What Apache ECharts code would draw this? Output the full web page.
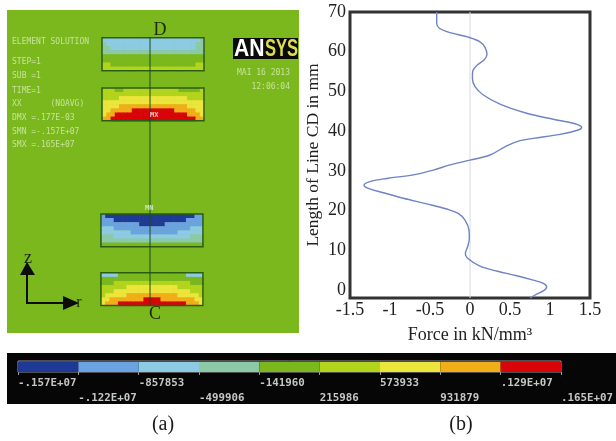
<!DOCTYPE html>
<html><head><meta charset="utf-8">
<style>html,body{margin:0;padding:0;background:#fff}#c{width:616px;height:441px;filter:blur(0.35px)}</style>
<script src="https://cdn.jsdelivr.net/npm/echarts@6/dist/echarts.min.js"></script>
</head><body><div id="c"></div>
<script>
// Force profile along line CD: [force in kN/mm3, length in mm]
const forceValues = [-0.416,-0.416,-0.383,-0.25,-0.01,0.125,0.1875,0.2125,0.175,0.083,0.033,0.03,0.0625,0.167,0.375,0.708,1.04,1.29,1.396,1.354,1.125,0.79,0.625,0.458,0.25,0,-0.25,-0.458,-0.708,-1.04,-1.25,-1.325,-1.27,-1.083,-0.833,-0.54,-0.29,-0.146,-0.0625,-0.0125,-0.008,-0.03,-0.058,-0.03,0.125,0.333,0.583,0.79,0.917,0.958,0.917,0.833,0.75];
const lengthValues = [70,67.1,65.9,64.8,63.6,62.5,61.1,59.3,57.9,56.5,55,53.3,51.2,49.1,46.8,44.5,43,42,41,40.3,39.2,38.2,37.6,36.3,34,32.7,31.5,30.2,29,28.1,27.3,26.4,25.6,24.5,23.1,21.7,20.4,19.3,17.6,15.1,13,10.9,9.2,8,6,4.8,3.6,2.5,1.7,0.8,-0.2,-1,-2];
const yTicks = [0,10,20,30,40,50,60,70];

// Contour bands (level index per cell) of the four sections
const sectionTopA = ["222222222222222222222223","322222222222222222222233","332222222222222222222233","333333333333333333333333","444444444444444444444444","444444444444444444444444","554444444444444444444455","555555555555555555555555"];
const sectionTopB = ["555445555555555555444445","555555555555555555555555","555566666666666666665555","666666666666666666666666","666677777777777777776666","667777788888888887777766","677888888888888888887776","778888888888888888888877"];
const sectionLowA = ["100000000000000000000011","111000000000000000001111","111111111000000111111111","222111111111111111111222","222222211111111111222222","333222222222222222222333","333333333333333333333333","444444444444444444444444"];
const sectionLowB = ["222244444444444444442222","444444444444444444444444","444555555555555555555444","555555666666666666555555","555666666666666666666555","566666777777777777666665","667777777788887777777766","677788888888888888887776"];
const sectionRows = [sectionTopA, sectionTopB, sectionLowA, sectionLowB];
const sectionOrigin = [[22.35,6.8],[22.35,19],[22.1,49.75],[22.1,64.1]];

// Colour scale
const levelColors = ["#1f3a96","#6ba2e2","#8ccbe3","#8cc9a6","#7ab81e","#b2d41c","#ece63c","#f2ae18","#d80408"];
const levelLabels = ["-.157E+07","-.122E+07","-857853","-499906","-141960","215986","573933","931879",".129E+07",".165E+07"];

const infoLines = [["ELEMENT SOLUTION",42],["STEP=1",62],["SUB =1",76],["TIME=1",91],["XX      (NOAVG)",104],["DMX =.177E-03",118],["SMN =-.157E+07",132],["SMX =.165E+07",145]];

const cells = [];
sectionRows.forEach((rows,s)=>rows.forEach((row,r)=>row.split("").forEach((ch,c)=>{
  cells.push([sectionOrigin[s][0]+c, sectionOrigin[s][1]+r, +ch]);
})));
const outlines = sectionOrigin.map(o=>[o[0],o[1]]);

const serif = '"Liberation Serif","Times New Roman",serif';
const mono = '"DejaVu Sans Mono","Liberation Mono",monospace';
const sans = '"Liberation Sans",sans-serif';
const chart = echarts.init(document.getElementById('c'),null,{renderer:'canvas'});

const txt = (x,y,text,o)=>({type:'text',x,y,z:50,silent:true,style:Object.assign({text,fill:'#c9e29a',font:'8px '+mono,verticalAlign:'middle'},o||{})});

chart.setOption({
  animation:false,
  backgroundColor:'#fff',
  grid:[
    {left:350,width:240,top:12,height:286,show:true,borderColor:'#333',borderWidth:3,backgroundColor:'#fff'},
    {left:7,width:292,top:10,height:323,show:true,borderWidth:0,backgroundColor:'#7ab81e'},
    {left:18,width:545,top:361,height:11,show:true,borderColor:'#9a9a9a',borderWidth:1,backgroundColor:'#000'}
  ],
  xAxis:[
    {gridIndex:0,type:'value',min:-1.5,max:1.5,interval:0.5,
     name:'Force in kN/mm³',nameLocation:'middle',nameGap:28,
     nameTextStyle:{fontFamily:serif,fontSize:18,color:'#222'},
     axisLine:{show:false},axisTick:{show:false},splitLine:{show:false},
     axisLabel:{fontFamily:serif,fontSize:18,color:'#222',margin:3,showMinLabel:true,showMaxLabel:true}},
    {gridIndex:1,type:'value',min:0,max:68.7,show:false},
    {gridIndex:2,type:'value',min:0,max:9,interval:1,
     axisLine:{show:false},splitLine:{show:false},
     axisTick:{show:true,length:3,lineStyle:{color:'#9a9a9a'}},
     axisLabel:{show:true,align:'left',margin:4,hideOverlap:false,showMinLabel:true,showMaxLabel:true,
       fontFamily:mono,fontSize:10.8,fontWeight:'bold',color:'#c4c8c4',lineHeight:15,
       formatter:(v)=>{const i=Math.round(v);return (i%2?'\n':'')+levelLabels[i]+(i%2?'':'\n');}}}
  ],
  yAxis:[
    {gridIndex:0,type:'value',min:-2,max:70,
     name:'Length of Line CD in mm',nameLocation:'middle',nameGap:28,
     nameTextStyle:{fontFamily:serif,fontSize:17.5,color:'#222'},
     axisLine:{show:false},axisTick:{show:false},splitLine:{show:false},
     axisLabel:{fontFamily:serif,fontSize:18,color:'#222',margin:4,customValues:yTicks,formatter:v=>String(v)}},
    {gridIndex:1,type:'value',min:0,max:78.8,inverse:true,show:false},
    {gridIndex:2,type:'value',min:0,max:1,show:false}
  ],
  series:[
    {type:'line',name:'zero',xAxisIndex:0,yAxisIndex:0,data:[[0,-2],[0,70]],symbol:'none',z:1,
     lineStyle:{color:'#d6dae2',width:1}},
    {type:'line',name:'Force',xAxisIndex:0,yAxisIndex:0,symbol:'none',smooth:0.35,z:3,
     data:forceValues.map((f,i)=>[f,lengthValues[i]]),
     lineStyle:{color:'#7083c2',width:1.4}},
    {type:'custom',name:'contour',xAxisIndex:1,yAxisIndex:1,data:cells,z:3,clip:false,
     renderItem:(p,api)=>{
       const a=api.coord([api.value(0),api.value(1)]), b=api.coord([api.value(0)+1,api.value(1)+1]);
       return {type:'rect',shape:{x:a[0],y:a[1],width:b[0]-a[0]+0.5,height:b[1]-a[1]+0.5},
               style:{fill:levelColors[api.value(2)]}};
     }},
    {type:'custom',name:'outline',xAxisIndex:1,yAxisIndex:1,data:outlines,z:4,clip:false,
     renderItem:(p,api)=>{
       const a=api.coord([api.value(0),api.value(1)]), b=api.coord([api.value(0)+24,api.value(1)+8]);
       return {type:'rect',shape:{x:a[0],y:a[1],width:b[0]-a[0],height:b[1]-a[1]},
               style:{fill:'none',stroke:'#2b5c14',lineWidth:1.5}};
     }},
    {type:'line',name:'CD',xAxisIndex:1,yAxisIndex:1,data:[[33.65,6.6],[33.65,72.2]],symbol:'none',z:5,
     lineStyle:{color:'#1f4a22',width:1}},
    {type:'custom',name:'scale',xAxisIndex:2,yAxisIndex:2,data:levelColors.map((c,i)=>[i,i+1]),z:3,
     renderItem:(p,api)=>{
       const a=api.coord([api.value(0),1]), b=api.coord([api.value(1),0]);
       return {type:'rect',shape:{x:a[0],y:a[1]+1,width:b[0]-a[0],height:b[1]-a[1]-1},
               style:{fill:levelColors[p.dataIndex]}};
     }}
  ],
  graphic:[
    {type:'rect',z:-1,silent:true,shape:{x:7,y:353,width:609,height:51},style:{fill:'#060606'}},
    {type:'rect',z:40,silent:true,shape:{x:233,y:38,width:65,height:21},style:{fill:'#0a0a0a'}},
    {type:'text',x:234,y:49,z:50,silent:true,scaleX:0.88,style:{text:'AN',fill:'#fff',font:'bold 24px '+sans,verticalAlign:'middle'}},
    {type:'text',x:265,y:49,z:50,silent:true,scaleX:0.69,style:{text:'SYS',fill:'#dcdc50',font:'bold 24px '+sans,verticalAlign:'middle'}},
    ...infoLines.map(l=>txt(12,l[1],l[0])),
    txt(237,73,'MAI 16 2013'),
    txt(290,87,'12:06:04',{align:'right'}),
    txt(150,115,'MX',{fill:'#f4c8c8',font:'bold 7px '+mono}),
    txt(145,208,'MN',{fill:'#cfe6c0',font:'bold 7px '+mono}),
    txt(160,30,'D',{fill:'#1c2c10',font:'18px '+serif,align:'center'}),
    txt(155,314,'C',{fill:'#1c2c10',font:'18px '+serif,align:'center'}),
    txt(28,258,'z',{fill:'#1a2a12',font:'18px '+serif,align:'center'}),
    txt(79,303,'r',{fill:'#1a2a12',font:'16px '+serif,align:'center'}),
    {type:'polyline',z:50,silent:true,shape:{points:[[27,268],[27,303],[66,303]]},style:{stroke:'#0c0c0c',lineWidth:2,fill:'none'}},
    {type:'polygon',z:50,silent:true,shape:{points:[[27,262],[20,275],[35,275]]},style:{fill:'#0c0c0c'}},
    {type:'polygon',z:50,silent:true,shape:{points:[[79,303],[63,296],[63,310]]},style:{fill:'#0c0c0c'}},
    txt(163,425,'(a)',{fill:'#1a1a1a',font:'20px '+serif,align:'center'}),
    txt(461,425,'(b)',{fill:'#1a1a1a',font:'20px '+serif,align:'center'})
  ]
});
</script></body></html>
